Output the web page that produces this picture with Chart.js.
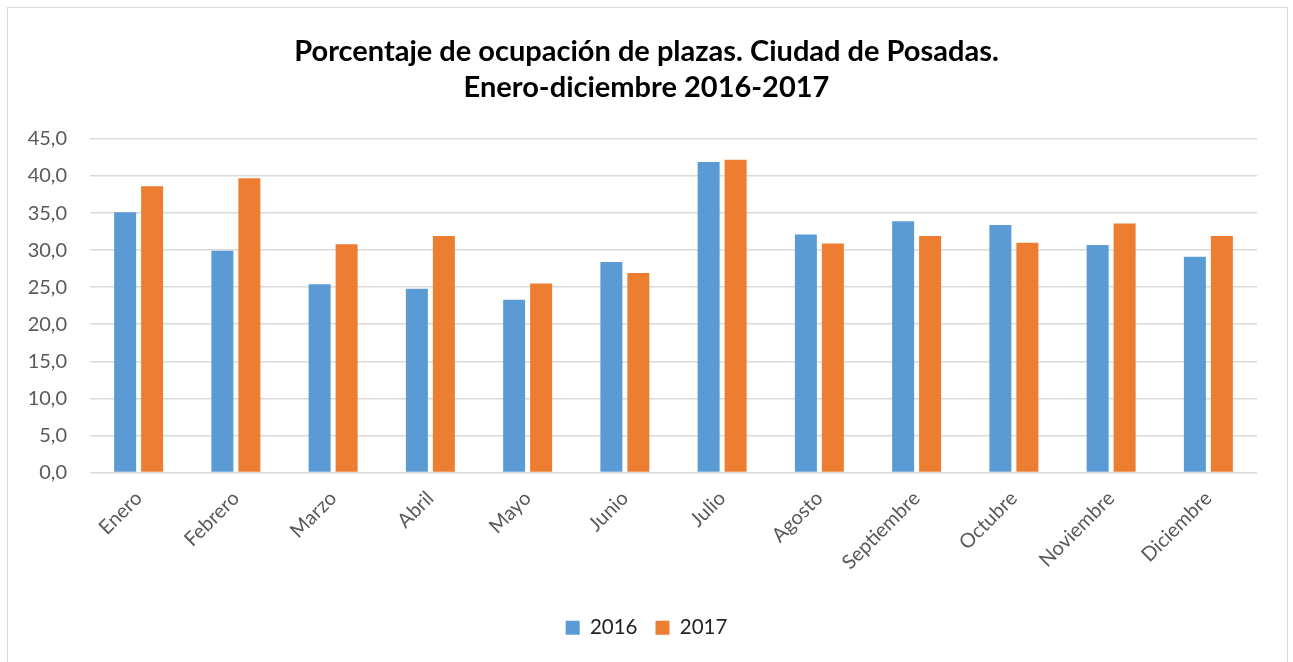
<!DOCTYPE html>
<html>
<head>
<meta charset="utf-8">
<script src="https://cdn.jsdelivr.net/npm/chart.js@4"></script>
<style>
  html, body { margin: 0; padding: 0; background: #fff; }
  #frame { position: absolute; left: 7px; top: 7px; width: 1279px; height: 700px; border: 1px solid #d9d9d9; }
  #wrap { position: absolute; left: 0; top: 0; width: 1293px; height: 662px; }
</style>
</head>
<body>
<div id="frame"></div>
<div id="wrap"><canvas id="occChart"></canvas></div>
<script>
    // Porcentaje de ocupación de plazas por mes
    const months = [
        'Enero', 'Febrero', 'Marzo', 'Abril', 'Mayo', 'Junio',
        'Julio', 'Agosto', 'Septiembre', 'Octubre', 'Noviembre', 'Diciembre'
    ];

    const occ2016 = [35.1, 29.9, 25.4, 24.8, 23.3, 28.4, 41.9, 32.1, 33.9, 33.4, 30.7, 29.1];
    const occ2017 = [38.6, 39.7, 30.8, 31.9, 25.5, 26.9, 42.2, 30.9, 31.9, 31.0, 33.6, 31.9];

    const yTicks = [0, 5, 10, 15, 20, 25, 30, 35, 40, 45];

    const fontFamily = 'Lato, "Open Sans", sans-serif';

    const ctx = document.getElementById('occChart').getContext('2d');
    new Chart(ctx, {
        type: 'bar',
        data: {
            labels: months,
            datasets: [
                {
                    label: '2016',
                    data: occ2016,
                    backgroundColor: '#5B9BD5',
                    categoryPercentage: 0.555,
                    barPercentage: 0.815
                },
                {
                    label: '2017',
                    data: occ2017,
                    backgroundColor: '#ED7D31',
                    categoryPercentage: 0.555,
                    barPercentage: 0.815
                }
            ]
        },
        options: {
            responsive: true,
            maintainAspectRatio: false,
            animation: false,
            layout: {
                padding: { top: 10, left: 8, right: 8, bottom: 14 }
            },
            plugins: {
                title: {
                    display: true,
                    text: ['Porcentaje de ocupación de plazas. Ciudad de Posadas.', 'Enero-diciembre 2016-2017'],
                    color: '#000',
                    font: { family: fontFamily, size: 29, weight: 'bold', lineHeight: 1.24 },
                    padding: { top: 24, bottom: 33 }
                },
                legend: {
                    position: 'bottom',
                    labels: {
                        boxWidth: 14,
                        boxHeight: 14,
                        padding: 18,
                        color: '#222',
                        font: { family: fontFamily, size: 20.5 }
                    }
                },
                tooltip: { enabled: false }
            },
            scales: {
                x: {
                    grid: { display: false },
                    border: { display: false },
                    ticks: {
                        color: '#595959',
                        font: { family: fontFamily, size: 20 },
                        minRotation: 45,
                        maxRotation: 45,
                        padding: 6
                    },
                    afterFit: function(scale) {
                        scale.height = 127;
                    }
                },
                y: {
                    min: 0,
                    max: 45,
                    afterBuildTicks: function(scale) {
                        scale.ticks = yTicks.map(v => ({ value: v }));
                    },
                    grid: { color: '#d9d9d9', lineWidth: 1.5, drawTicks: false },
                    border: { display: false },
                    ticks: {
                        color: '#595959',
                        font: { family: fontFamily, size: 20 },
                        padding: 23,
                        callback: function(value) {
                            return value.toFixed(1).replace('.', ',');
                        }
                    },
                    afterFit: function(scale) {
                        scale.width = 82;
                    }
                },
                yRight: {
                    position: 'right',
                    grid: { display: false },
                    border: { display: false },
                    ticks: { display: false },
                    afterFit: function(scale) {
                        scale.width = 28;
                    }
                }
            }
        }
    });
</script>
</body>
</html>
